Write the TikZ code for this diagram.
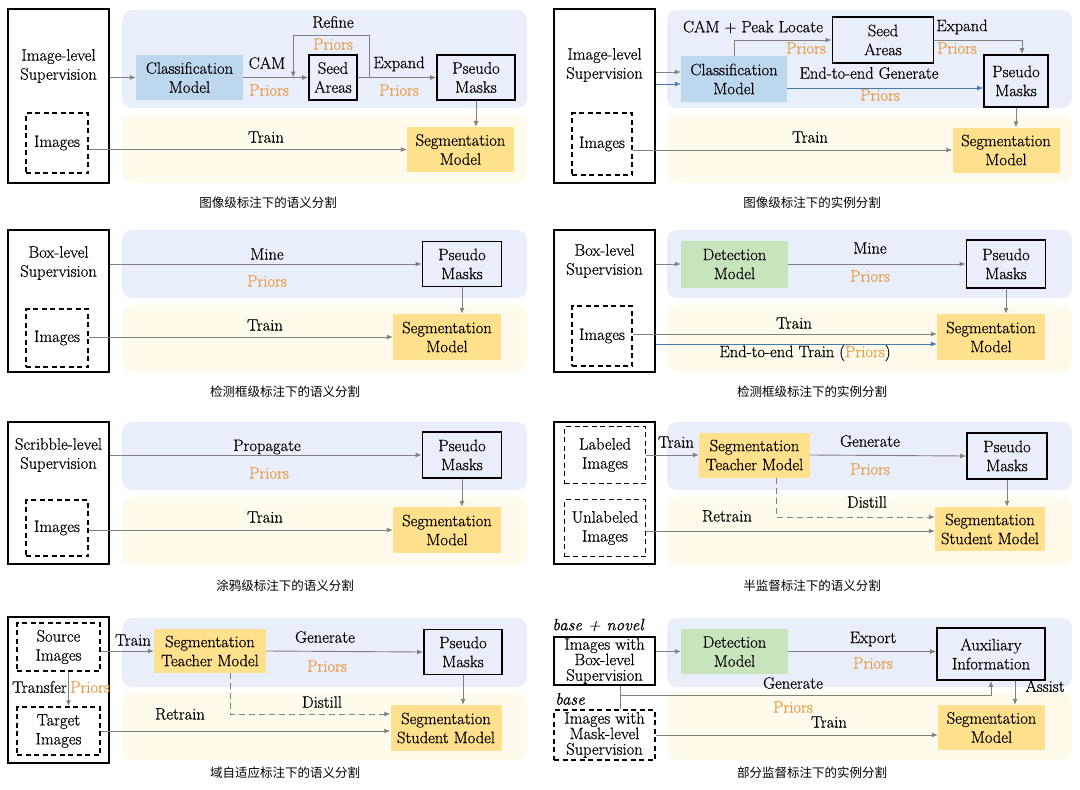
\documentclass[tikz,border=0pt]{standalone}
\usepackage{fontspec}
\usepackage{xcolor}
\usepackage{tikz}
\usetikzlibrary{arrows.meta,calc}
\setmainfont{Latin Modern Roman}[FakeBold=0.5]
\newfontfamily\itfont{lmroman10-italic.otf}[FakeBold=0.4]
\newfontfamily\cjk{Noto Sans CJK SC}
\definecolor{bgblue}{RGB}{232, 238, 250}
\definecolor{bgyellow}{RGB}{255, 250, 236}
\definecolor{clsblue}{RGB}{189, 215, 238}
\definecolor{segyellow}{RGB}{255, 224, 140}
\definecolor{detgreen}{RGB}{200, 228, 188}
\definecolor{priororange}{RGB}{233, 155, 70}
\definecolor{arrgray}{RGB}{128, 128, 128}
\definecolor{arrblue}{RGB}{70, 122, 172}

\tikzset{
  txt/.style={font=\fontsize{16.5}{19}\selectfont, align=center, inner sep=0pt},
  ittxt/.style={font=\itfont\fontsize{16.5}{19}\selectfont, inner sep=0pt},
  prior/.style={txt, text=priororange},
  captxt/.style={font=\cjk\fontsize{12.5}{15}\selectfont, inner sep=0pt},
  supbox/.style={txt, draw, line width=1.8pt},
  imgbox/.style={txt, draw, line width=1.5pt, dash pattern=on 5pt off 3.5pt},
  maskbox/.style={txt, draw, line width=1.8pt},
  clsmodel/.style={txt, fill=clsblue},
  segmodel/.style={txt, fill=segyellow},
  detmodel/.style={txt, fill=detgreen},
  arr/.style={draw=arrgray, line width=0.9pt, -{Latex[length=6pt,width=5pt]}},
  barr/.style={arr, draw=arrblue},
  darr/.style={arr, dash pattern=on 6pt off 4pt},
}

\begin{document}
\begin{tikzpicture}[x=1pt, y=-1pt]
\useasboundingbox (0,0) rectangle (1080,790);

% Background bands
\foreach \dx in {0,545} {
  \fill[bgblue, rounded corners=10pt] (122+\dx,10) rectangle (527+\dx,108);
  \fill[bgyellow, rounded corners=10pt] (122+\dx,115) rectangle (527+\dx,183);
  \fill[bgblue, rounded corners=10pt] (122+\dx,230) rectangle (527+\dx,298);
  \fill[bgyellow, rounded corners=10pt] (122+\dx,305) rectangle (527+\dx,372);
  \fill[bgblue, rounded corners=10pt] (122+\dx,422) rectangle (527+\dx,490);
  \fill[bgyellow, rounded corners=10pt] (122+\dx,497) rectangle (527+\dx,565);
  \fill[bgblue, rounded corners=10pt] (122+\dx,618) rectangle (527+\dx,687);
  \fill[bgyellow, rounded corners=10pt] (122+\dx,692) rectangle (527+\dx,760);
}

% Image-level semantic segmentation
\node[supbox, minimum width=101, minimum height=174] (sup1) at (58.5,96) {};
\node[txt] (suptxt1) at (58.5,66) {Image-level\\Supervision};
\node[imgbox, minimum width=62, minimum height=60] (img1) at (57,143) {Images};
\node[clsmodel, minimum width=107, minimum height=45] (cls1) at (189.5,77.5) {Classification\\Model};
\node[maskbox, minimum width=48, minimum height=45] (seed1) at (333,77.5) {Seed\\Areas};
\node[maskbox, minimum width=78, minimum height=45] (pm1) at (476,77.5) {Pseudo\\Masks};
\node[segmodel, minimum width=107, minimum height=45] (seg1) at (460.5,149.5) {Segmentation\\Model};
\node[txt] (cam1) at (267,63) {CAM};
\node[prior] (pr1a) at (269,90) {Priors};
\node[txt] (ref1) at (333,22) {Refine};
\node[prior] (pr1b) at (333,44) {Priors};
\node[txt] (exp1) at (399,64) {Expand};
\node[prior] (pr1c) at (399,90) {Priors};
\node[txt] (trn1) at (266,137) {Train};
\node[captxt] (cap1) at (268,203) {图像级标注下的语义分割};
\draw[arr] (sup1.east |- cls1.west) -- (cls1.west);
\draw[arr] (cls1.east) -- (seed1.west);
\draw[arr] (seed1.east) -- (pm1.west);
\coordinate (rf1) at (369,77.5);
\draw[arr] (rf1) -- ++(0,-42) -| ($(cls1.east)!0.77!(seed1.west)$);
\draw[arr] (img1.east |- seg1.west) -- (seg1.west);
\draw[arr] (pm1.south) -- (pm1.south |- seg1.north);

% Image-level instance segmentation
\node[supbox, minimum width=101, minimum height=174] (sup2) at (604.5,96) {};
\node[txt] (suptxt2) at (604.5,65) {Image-level\\Supervision};
\node[imgbox, minimum width=60, minimum height=62] (img2) at (602,144) {Images};
\node[clsmodel, minimum width=106, minimum height=46] (cls2) at (734,79) {Classification\\Model};
\node[maskbox, minimum width=101, minimum height=46] (seed2) at (883,40) {Seed\\Areas};
\node[maskbox, minimum width=64, minimum height=52] (pm2) at (1016,81) {Pseudo\\Masks};
\node[segmodel, minimum width=107, minimum height=45] (seg2) at (1006,150) {Segmentation\\Model};
\node[txt] (cam2) at (753,27) {CAM + Peak Locate};
\node[prior] (pr2a) at (806,48) {Priors};
\node[txt] (exp2) at (962,27) {Expand};
\node[prior] (pr2b) at (957,48) {Priors};
\node[txt] (e2e2) at (869,73) {End-to-end Generate};
\node[prior] (pr2c) at (880,95) {Priors};
\node[txt] (trn2) at (810,137) {Train};
\node[captxt] (cap2) at (812,203) {图像级标注下的实例分割};
\draw[arr] (sup2.east |- 0,72) -- (cls2.west |- 0,72);
\draw[barr] (sup2.east |- 0,84) -- (cls2.west |- 0,84);
\draw[arr] (cls2.north) |- (seed2.west);
\draw[arr] (seed2.east) -| ($(pm2.north)+(6,0)$);
\draw[barr] (cls2.east |- 0,88) -- (pm2.west |- 0,88);
\draw[arr] (pm2.south) -- (pm2.south |- seg2.north);
\draw[arr] (img2.east |- seg2.west) -- (seg2.west);

% Box-level semantic segmentation
\node[supbox, minimum width=101, minimum height=142] (sup3) at (58.5,301) {};
\node[txt] (suptxt3) at (58.5,263) {Box-level\\Supervision};
\node[imgbox, minimum width=62, minimum height=58] (img3) at (57,338) {Images};
\node[maskbox, minimum width=79, minimum height=45] (pm3) at (462,264) {Pseudo\\Masks};
\node[segmodel, minimum width=108, minimum height=46] (seg3) at (447,337) {Segmentation\\Model};
\node[txt] (mine3) at (267,254) {Mine};
\node[prior] (pr3) at (267,281) {Priors};
\node[txt] (trn3) at (265,325) {Train};
\node[captxt] (cap3) at (285,392) {检测框级标注下的语义分割};
\draw[arr] (sup3.east |- pm3.west) -- (pm3.west);
\draw[arr] (pm3.south) -- (pm3.south |- seg3.north);
\draw[arr] (img3.east |- seg3.west) -- (seg3.west);

% Box-level instance segmentation
\node[supbox, minimum width=101, minimum height=142] (sup4) at (604.5,301) {};
\node[txt] (suptxt4) at (604.5,261) {Box-level\\Supervision};
\node[imgbox, minimum width=60, minimum height=60] (img4) at (602,336) {Images};
\node[detmodel, minimum width=107, minimum height=47] (det4) at (734.5,264) {Detection\\Model};
\node[maskbox, minimum width=79, minimum height=48] (pm4) at (1006,264) {Pseudo\\Masks};
\node[segmodel, minimum width=108, minimum height=46] (seg4) at (991,337) {Segmentation\\Model};
\node[txt] (mine4) at (870,248) {Mine};
\node[prior] (pr4) at (870,276) {Priors};
\node[txt] (trn4) at (794,323) {Train};
\node[txt] (e2e4) at (805,353) {End-to-end Train (\textcolor{priororange}{Priors})};
\node[captxt] (cap4) at (812,392) {检测框级标注下的实例分割};
\draw[arr] (sup4.east |- det4.west) -- (det4.west);
\draw[arr] (det4.east) -- (pm4.west);
\draw[arr] (pm4.south) -- (pm4.south |- seg4.north);
\draw[arr] (img4.east |- 0,334) -- (seg4.west |- 0,334);
\draw[barr] (sup4.east |- 0,344) -- (seg4.west |- 0,344);

% Scribble-level semantic segmentation
\node[supbox, minimum width=101, minimum height=142] (sup5) at (58.5,493) {};
\node[txt] (suptxt5) at (58.5,455) {Scribble-level\\Supervision};
\node[imgbox, minimum width=62, minimum height=56] (img5) at (57,528) {Images};
\node[maskbox, minimum width=79, minimum height=46] (pm5) at (462,455) {Pseudo\\Masks};
\node[segmodel, minimum width=108, minimum height=46] (seg5) at (447,530) {Segmentation\\Model};
\node[txt] (prop5) at (267,447) {Propagate};
\node[prior] (pr5) at (269,473) {Priors};
\node[txt] (trn5) at (265,517) {Train};
\node[captxt] (cap5) at (285,586) {涂鸦级标注下的语义分割};
\draw[arr] (sup5.east |- pm5.west) -- (pm5.west);
\draw[arr] (pm5.south) -- (pm5.south |- seg5.north);
\draw[arr] (img5.east |- seg5.west) -- (seg5.west);

% Semi-supervised semantic segmentation
\node[supbox, minimum width=101, minimum height=142] (sup6) at (604.5,493) {};
\node[imgbox, minimum width=81, minimum height=57] (lab6) at (605,455) {Labeled\\Images};
\node[imgbox, minimum width=81, minimum height=57] (unl6) at (605,528) {Unlabeled\\Images};
\node[segmodel, minimum width=111, minimum height=45] (tch6) at (754.5,455) {Segmentation\\Teacher Model};
\node[maskbox, minimum width=80, minimum height=46] (pm6) at (1007,456) {Pseudo\\Masks};
\node[segmodel, minimum width=110, minimum height=44] (stu6) at (990,529) {Segmentation\\Student Model};
\node[txt] (trn6) at (676,442) {Train};
\node[txt] (gen6) at (870,441) {Generate};
\node[prior] (pr6) at (870,469) {Priors};
\node[txt] (dst6) at (867,502) {Distill};
\node[txt] (rtr6) at (727,516) {Retrain};
\node[captxt] (cap6) at (812,586) {半监督标注下的语义分割};
\draw[arr] (lab6.east |- tch6.west) -- (tch6.west);
\draw[arr] (tch6.east) -- (pm6.west);
\draw[arr] (pm6.south) -- (pm6.south |- stu6.north);
\draw[darr] ($(tch6.south)+(22,0)$) |- (stu6.west |- 0,517);
\draw[arr] (unl6.east |- 0,531) -- (stu6.west |- 0,531);

% Domain adaptation semantic segmentation
\node[supbox, minimum width=101, minimum height=146] (sup7) at (58.5,690) {};
\node[imgbox, minimum width=83, minimum height=48] (src7) at (58.5,647) {Source\\Images};
\node[imgbox, minimum width=83, minimum height=48] (tgt7) at (58.5,731) {Target\\Images};
\node[txt, anchor=east] (tfr7) at (67,687) {Transfer};
\node[prior, anchor=west] (pr7a) at (70,687) {Priors};
\node[segmodel, minimum width=112, minimum height=44] (tch7) at (210,651) {Segmentation\\Teacher Model};
\node[maskbox, minimum width=78, minimum height=45] (pm7) at (463,652) {Pseudo\\Masks};
\node[segmodel, minimum width=111, minimum height=46] (stu7) at (446,728) {Segmentation\\Student Model};
\node[txt] (trn7) at (133,640) {Train};
\node[txt] (gen7) at (325,637) {Generate};
\node[prior] (pr7b) at (327,666) {Priors};
\node[txt] (dst7) at (322,702) {Distill};
\node[txt] (rtr7) at (180,714) {Retrain};
\node[captxt] (cap7) at (285,773) {域自适应标注下的语义分割};
\draw[arr] ($(src7.south)+(10,0)$) -- ($(tgt7.north)+(10,0)$);
\draw[arr] (src7.east |- tch7.west) -- (tch7.west);
\draw[arr] (tch7.east) -- (pm7.west);
\draw[arr] (pm7.south) -- (pm7.south |- stu7.north);
\draw[darr] ($(tch7.south)+(20,0)$) |- (stu7.west |- 0,714);
\draw[arr] (tgt7.east) -- (stu7.west |- tgt7.east);

% Partially-supervised instance segmentation
\node[ittxt] (bn8) at (598,625) {base + novel};
\node[supbox, minimum width=101, minimum height=48, font=\fontsize{16.5}{15.5}\selectfont] (bx8) at (604.5,661) {Images with\\Box-level\\Supervision};
\node[ittxt] (bs8) at (570,699) {base};
\node[imgbox, minimum width=101, minimum height=50, font=\fontsize{16.5}{15.5}\selectfont] (mk8) at (604.5,735) {Images with\\Mask-level\\Supervision};
\node[detmodel, minimum width=107, minimum height=45] (det8) at (734.5,651.5) {Detection\\Model};
\node[maskbox, minimum width=108, minimum height=52] (aux8) at (991,654) {Auxiliary\\Information};
\node[segmodel, minimum width=107, minimum height=45] (seg8) at (991.5,727.5) {Segmentation\\Model};
\node[txt] (exp8) at (873,639) {Export};
\node[prior] (pr8a) at (873,663) {Priors};
\node[txt] (gen8) at (793,683) {Generate};
\node[prior] (pr8b) at (793,707) {Priors};
\node[txt] (ast8) at (1045,686) {Assist};
\node[txt] (trn8) at (829,722) {Train};
\node[captxt] (cap8) at (812,773) {部分监督标注下的实例分割};
\coordinate (asst8) at ($(aux8.south)+(24,0)$);
\draw[arr] (bx8.east |- det8.west) -- (det8.west);
\draw[arr] (det8.east) -- (aux8.west |- det8.east);
\draw[draw=arrgray, line width=0.9pt] ($(bx8.south)+(15.5,0)$) -- ($(mk8.north)+(15.5,0)$);
\draw[arr] ($(bx8.south)+(15.5,10)$) -| (aux8.south);
\draw[arr] (asst8) -- (asst8 |- seg8.north);
\draw[arr] (mk8.east) -- (seg8.west |- mk8.east);
\end{tikzpicture}
\end{document}
